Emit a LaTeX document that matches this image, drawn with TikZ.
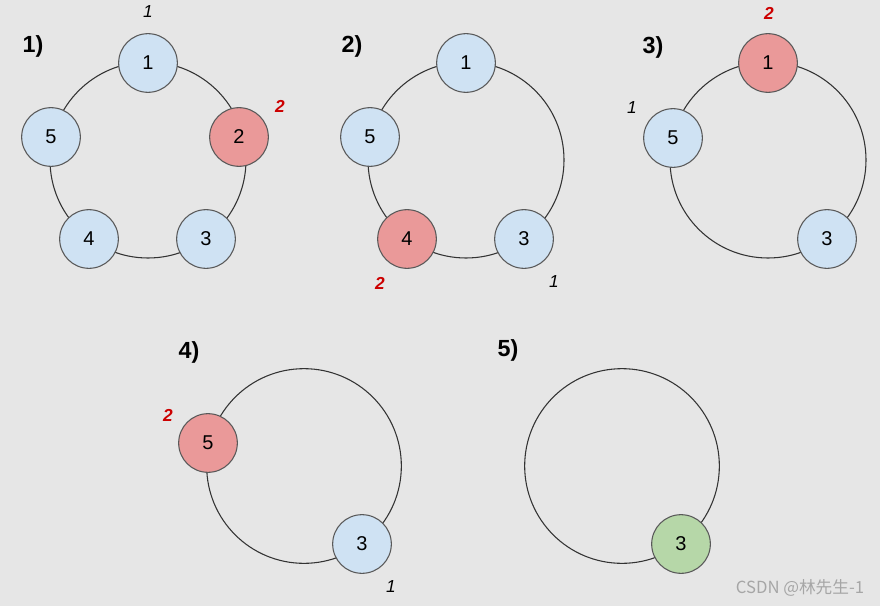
\documentclass[tikz,border=0pt]{standalone}
\usepackage{fontspec}
\setmainfont{Liberation Sans}
\newfontfamily\cjkfont{Noto Sans CJK SC}

\definecolor{bggray}{HTML}{E6E6E6}
\definecolor{procblue}{HTML}{CFE2F3}
\definecolor{procred}{HTML}{EA9999}
\definecolor{procgreen}{HTML}{B6D7A8}
\definecolor{rimgray}{HTML}{595959}
\definecolor{countred}{HTML}{CC0000}

\begin{document}
\begin{tikzpicture}[x=0.75pt,y=-0.75pt,
	ring/.style={draw=black!80,line width=0.8pt},
	proc/.style={circle,draw=rimgray,line width=0.8pt,fill=procblue,minimum size=44pt,
	             inner sep=0pt,font=\fontsize{15}{17}\selectfont},
	victim/.style={proc,fill=procred},
	survivor/.style={proc,fill=procgreen},
	round label/.style={font=\fontsize{17.5}{20}\selectfont\bfseries},
	count/.style={font=\fontsize{13}{15}\selectfont\itshape},
	hit/.style={text=countred,font=\fontsize{13}{15}\selectfont\bfseries\itshape}]

	\fill[bggray] (0,0) rectangle (880,606);
	\useasboundingbox (0,0) rectangle (880,606);

	% round 1
	\coordinate (ca) at (148,160);
	\draw[ring] (ca) circle[radius=73.5pt];
	\node[round label] (ra) at (33,46) {1)};
	\node[proc]   (a1) at (148,63)  {1};
	\node[victim] (a2) at (239,137) {2};
	\node[proc]   (a3) at (206,239) {3};
	\node[proc]   (a4) at (89,239)  {4};
	\node[proc]   (a5) at (51,137)  {5};
	\node[count] (ka) at (148,12)  {1};
	\node[hit]   (ha) at (280,106) {2};

	% round 2
	\coordinate (cb) at (466,160);
	\draw[ring] (cb) circle[radius=73.5pt];
	\node[round label] (rb) at (352,46) {2)};
	\node[proc]   (b1) at (466,63)  {1};
	\node[proc]   (b3) at (524,239) {3};
	\node[victim] (b4) at (407,239) {4};
	\node[proc]   (b5) at (370,137) {5};
	\node[hit]   (hb) at (380,283) {2};
	\node[count] (kb) at (554,282) {1};

	% round 3
	\coordinate (cc) at (768,160);
	\draw[ring] (cc) circle[radius=73.5pt];
	\node[round label] (rc) at (653,47) {3)};
	\node[victim] (c1) at (768,63)  {1};
	\node[proc]   (c3) at (827,239) {3};
	\node[proc]   (c5) at (673,138) {5};
	\node[hit]   (hc) at (769,13)  {2};
	\node[count] (kc) at (632,108) {1};

	% round 4
	\coordinate (cd) at (304,466);
	\draw[ring] (cd) circle[radius=73pt];
	\node[round label] (rd) at (189,352) {4)};
	\node[proc]   (d3) at (362,544) {3};
	\node[victim] (d5) at (208,443) {5};
	\node[hit]   (hd) at (168,415) {2};
	\node[count] (kd) at (391,587) {1};

	% round 5
	\coordinate (ce) at (622,466);
	\draw[ring] (ce) circle[radius=73pt];
	\node[round label] (re) at (508,350) {5)};
	\node[survivor] (e3) at (681,544) {3};

	\node[text=black!35,font=\cjkfont\fontsize{12.5}{14}\selectfont] (mark) at (800,588) {CSDN @林先生-1};
\end{tikzpicture}
\end{document}
